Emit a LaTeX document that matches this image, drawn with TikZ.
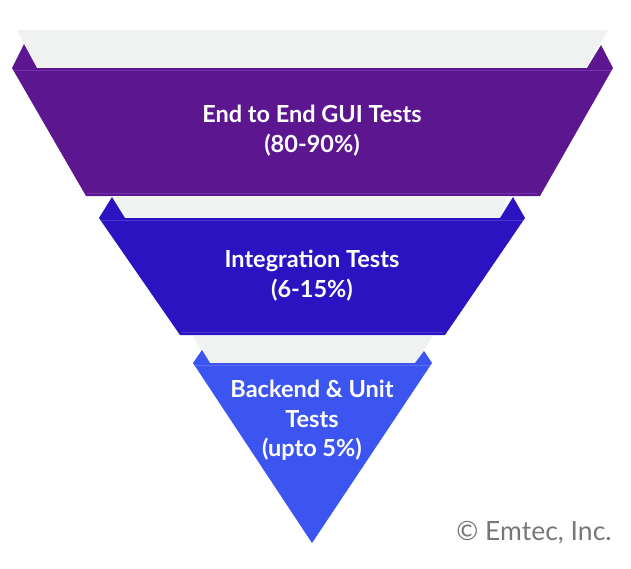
\documentclass[tikz,border=0pt]{standalone}
\usepackage{fontspec}
\setmainfont{Lato}
\definecolor{bandgray}{HTML}{F0F1F1}
\definecolor{cpurple}{HTML}{5C1690}
\definecolor{cpurpleedge}{HTML}{7130A8}
\definecolor{cblue}{HTML}{2B13C2}
\definecolor{cblueedge}{HTML}{4A37D0}
\definecolor{clight}{HTML}{3C55F0}
\definecolor{clightedge}{HTML}{5A70F4}
\definecolor{copygray}{HTML}{777777}
\tikzset{
  label/.style={text=white, align=center, font=\fontsize{23.5}{29.5}\selectfont\bfseries},
}
\begin{document}
\begin{tikzpicture}[x=1pt,y=-1pt]
\useasboundingbox (0,0) rectangle (631,568);
% band 1
\fill[bandgray] (17,30) -- (608,30) -- (586,68) -- (38,68) -- cycle;
\fill[cpurple] (12,68) -- (24,44) -- (37,68) -- cycle;
\fill[cpurple] (613,68) -- (601,45) -- (587,68) -- cycle;
\fill[cpurple] (12,68) -- (613,68) -- (540,196) -- (86,196) -- cycle;
\draw[cpurpleedge, line width=0.8pt] (14,70.5) -- (611,70.5);
\draw[cpurpleedge, line width=0.8pt] (87,193.5) -- (538,193.5);
% band 2
\fill[bandgray] (114,196) -- (508,196) -- (500,218) -- (125,218) -- cycle;
\fill[cblue] (99,218) -- (112,197) -- (125,218) -- cycle;
\fill[cblue] (525,218) -- (513,197) -- (500,218) -- cycle;
\fill[cblue] (99,218) -- (525,218) -- (445,335) -- (180,335) -- cycle;
\draw[cblueedge, line width=0.8pt] (101,220.5) -- (523,220.5);
\draw[cblueedge, line width=0.8pt] (181,332.5) -- (443,332.5);
% band 3
\fill[bandgray] (193,336) -- (433,336) -- (416,363) -- (208,363) -- cycle;
\fill[clight] (193,363) -- (202,350) -- (210,363) -- cycle;
\fill[clight] (432,363) -- (424,351) -- (415,363) -- cycle;
\fill[clight] (193,363) -- (432,363) -- (312,543) -- cycle;
\draw[clightedge, line width=0.8pt] (195,365.5) -- (430,365.5);
% labels
\node[label] (e2e) at (312,130.5) {End to End GUI Tests\\(80-90\%)};
\node[label] (integ) at (312,275.5) {Integration Tests\\(6-15\%)};
\node[label] (unit) at (312,420.5) {Backend \& Unit\\Tests\\(upto 5\%)};
\node[text=copygray, font=\fontsize{26.5}{30}\selectfont] (copy) at (534,533) {© Emtec, Inc.};
\end{tikzpicture}
\end{document}
